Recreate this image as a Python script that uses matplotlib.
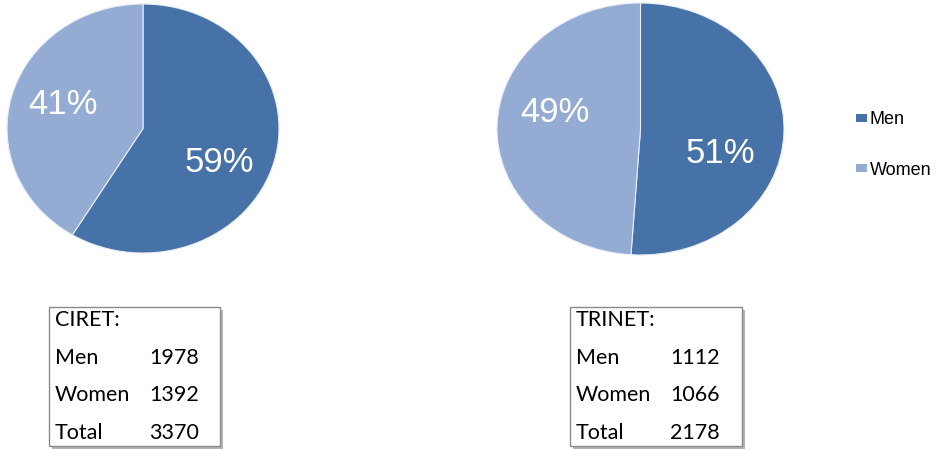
import matplotlib.pyplot as plt
from matplotlib.patches import Rectangle, Patch

# data
groups = ['CIRET', 'TRINET']
categories = ['Men', 'Women']
ciret_counts = [1978, 1392]
trinet_counts = [1112, 1066]
colors = ['#4672a8', '#94abd3']

# where the percentage labels sit inside each pie (data coords, baseline)
ciret_label_pos = [(0.559, -0.349), (-0.588, 0.116)]
trinet_label_pos = [(0.554, -0.27), (-0.599, 0.056)]

W, H = 939, 450
fig = plt.figure(figsize=(W / 100, H / 100), dpi=100)


def px_box(x0, y0, x1, y1):
    # pixel box (top-left origin) -> figure fraction [left, bottom, width, height]
    return [x0 / W, 1 - y1 / H, (x1 - x0) / W, (y1 - y0) / H]


def draw_pie(rect, counts, label_pos):
    ax = fig.add_axes(rect)
    wedges, _, autotexts = ax.pie(
        counts, colors=colors, startangle=90, counterclock=False,
        autopct='%.0f%%',
        wedgeprops=dict(edgecolor='#e8edf5', linewidth=0.8),
        textprops=dict(color='white', fontsize=25, family='Liberation Sans'))
    for t, pos in zip(autotexts, label_pos):
        t.set_position(pos)
        t.set_va('baseline')
    ax.set_aspect('auto')
    ax.set_xlim(-1.0, 1.0)
    ax.set_ylim(-1.0, 1.0)
    ax.axis('off')
    return wedges


draw_pie(px_box(7, 4, 279, 253), ciret_counts, ciret_label_pos)
draw_pie(px_box(497, 3, 784, 255), trinet_counts, trinet_label_pos)

# legend
handles = [Patch(facecolor=c, edgecolor='none') for c in colors]
fig.legend(handles, categories, loc='center left',
           bbox_to_anchor=(856 / W, 1 - 145 / H), frameon=False,
           prop=dict(family='Liberation Sans', size=13),
           handlelength=0.6, handleheight=0.35, handletextpad=0.15,
           labelspacing=1.85, borderpad=0, borderaxespad=0)


def draw_table(x0, x1, title, counts):
    y0, y1 = 307, 446
    # shadow
    fig.patches.append(Rectangle((x0 / W + 2.5 / W, 1 - (y1 + 2.5) / H),
                                 (x1 - x0) / W, (y1 - y0) / H,
                                 transform=fig.transFigure, facecolor='#b5b5b5',
                                 edgecolor='none', zorder=1))
    fig.patches.append(Rectangle((x0 / W, 1 - y1 / H), (x1 - x0) / W, (y1 - y0) / H,
                                 transform=fig.transFigure, facecolor='white',
                                 edgecolor='#8a8a8a', linewidth=1.0, zorder=2))
    rows = [(title + ':', '')]
    rows += [(c, str(v)) for c, v in zip(categories, counts)]
    rows += [('Total', str(sum(counts)))]
    ys = [320, 358, 395, 433]
    for (lab, val), y in zip(rows, ys):
        fig.text((x0 + 6) / W, 1 - y / H, lab, ha='left', va='center',
                 family='Lato', fontsize=15.5, color='black', zorder=3)
        if val:
            fig.text((x0 + 100) / W, 1 - y / H, val, ha='left', va='center',
                     family='Lato', fontsize=15.5, color='black', zorder=3)


draw_table(49, 220, groups[0], ciret_counts)
draw_table(570, 742, groups[1], trinet_counts)

fig.savefig('out.png', dpi=100)
plt.close(fig)
